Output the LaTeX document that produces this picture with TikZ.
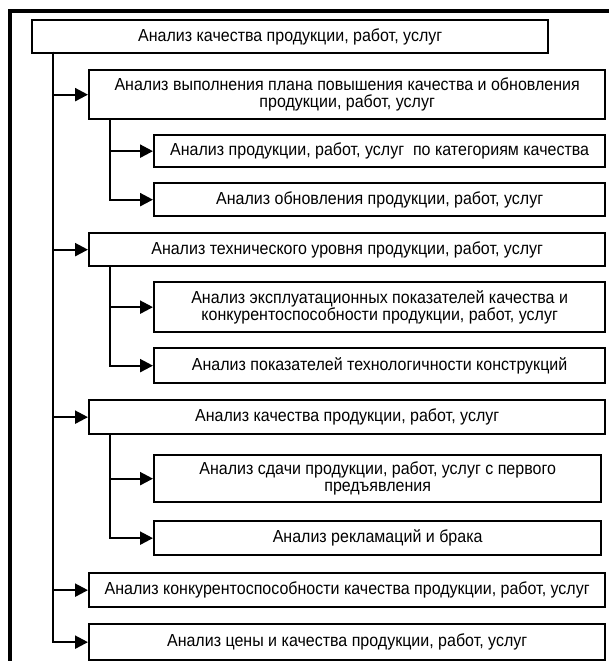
\documentclass[tikz,border=0pt]{standalone}
\usepackage{fontspec}
\setmainfont[FakeStretch=0.92]{Liberation Sans}
\usetikzlibrary{arrows.meta}
\begin{document}
\begin{tikzpicture}[x=1pt,y=-1pt,
  box/.style={draw, line width=2.3pt, inner sep=2pt, align=center,
    font=\fontsize{17.4}{17.5}\selectfont, anchor=north west},
  lvone/.style={box, minimum width=516pt},
  lvtwo/.style={box, minimum width=451pt},
  arr/.style={line width=2.3pt, -{Triangle[length=13pt,width=13pt]}},
  frameline/.style={line width=4pt}]
\useasboundingbox (0,0) rectangle (609,661);
\fill[white] (0,0) rectangle (609,661);
\draw[frameline] (9.5,663) -- (9.5,11.5) -- (611,11.5);

\node[box, minimum width=516pt, minimum height=33pt] (b1) at (31,19) {Анализ качества продукции, работ, услуг};

\node[lvone, minimum height=49pt] (b2) at (88,69) {Анализ выполнения плана повышения качества и обновления\\продукции, работ, услуг};
\node[lvtwo, minimum height=32pt] (b3) at (153,134) {Анализ продукции, работ, услуг\ \ по категориям качества};
\node[lvtwo, minimum height=33pt] (b4) at (153,182) {Анализ обновления продукции, работ, услуг};

\node[lvone, minimum height=33pt] (b5) at (88,232) {Анализ технического уровня продукции, работ, услуг};
\node[lvtwo, minimum height=50pt] (b6) at (153,281) {Анализ эксплуатационных показателей качества и\\конкурентоспособности продукции, работ, услуг};
\node[lvtwo, minimum height=35pt] (b7) at (153,347) {Анализ показателей технологичности конструкций};

\node[lvone, minimum height=34pt] (b8) at (88,399) {Анализ качества продукции, работ, услуг};
\node[box, minimum width=447pt, minimum height=47pt] (b9) at (153,454) {Анализ сдачи продукции, работ, услуг с первого\\предъявления};
\node[box, minimum width=447pt, minimum height=34pt] (b10) at (153,520) {Анализ рекламаций и брака};

\node[lvone, minimum height=34pt] (b11) at (88,572) {Анализ конкурентоспособности качества продукции, работ, услуг};
\node[lvone, minimum height=36pt] (b12) at (88,623) {Анализ цены и качества продукции, работ, услуг};

\coordinate (t0) at (53,52);
\coordinate (s1) at (110,118);
\coordinate (s2) at (110,265);
\coordinate (s3) at (110,433);

\foreach \b in {b2,b5,b8,b11,b12} \draw[arr] (t0) |- (\b.west);
\foreach \b in {b3,b4} \draw[arr] (s1) |- (\b.west);
\foreach \b in {b6,b7} \draw[arr] (s2) |- (\b.west);
\foreach \b in {b9,b10} \draw[arr] (s3) |- (\b.west);
\end{tikzpicture}
\end{document}
